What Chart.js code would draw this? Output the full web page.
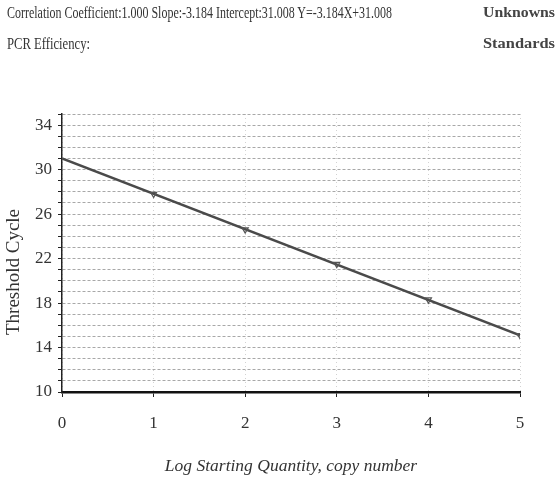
<!DOCTYPE html>
<html>
<head>
<meta charset="utf-8">
<script src="https://cdn.jsdelivr.net/npm/chart.js@4/dist/chart.umd.min.js"></script>
<style>
  html, body { margin: 0; padding: 0; background: #fff; }
  #wrap { position: relative; width: 558px; height: 484px; overflow: hidden; }
  #c { position: absolute; left: 0; top: 0; }
  .hdr { position: absolute; font-family: "Liberation Serif", "DejaVu Serif", serif; color: #333; white-space: nowrap; transform-origin: 0 0; }
  #eq { left: 7px; top: 4px; font-size: 16px; }
  #eff { left: 7px; top: 35px; font-size: 16px; }
  #unk { left: 483px; top: 4px; font-size: 15px; font-weight: bold; color: #444; }
  #std { left: 483px; top: 35px; font-size: 15px; font-weight: bold; color: #444; }
</style>
</head>
<body>
<div id="wrap">
  <canvas id="c" width="558" height="484"></canvas>
  <div class="hdr" id="eq">Correlation Coefficient:1.000 Slope:-3.184 Intercept:31.008 Y=-3.184X+31.008</div>
  <div class="hdr" id="eff">PCR Efficiency:</div>
  <div class="hdr" id="unk">Unknowns</div>
  <div class="hdr" id="std">Standards</div>
</div>
<script>
// Data
const standardsLogQuantity = [1, 2, 3, 4, 5];
const standardsThresholdCycle = [27.8, 24.6, 21.5, 18.3, 15.1];
const fitLineX = [0, 5];
const fitLineY = [31.008, 15.088];
const xTickLabels = ['0', '1', '2', '3', '4', '5'];
const yTickLabels = ['10', '14', '18', '22', '26', '30', '34'];

// condense header text to match the reference widths
function fitWidth(id, target) {
  const el = document.getElementById(id);
  const w = el.getBoundingClientRect().width;
  el.style.transform = 'scaleX(' + (target / w) + ')';
}
fitWidth('eq', 385);
fitWidth('eff', 83);
fitWidth('unk', 72);
fitWidth('std', 72);

const serif = '"Liberation Serif", "DejaVu Serif", serif';

new Chart(document.getElementById('c'), {
  type: 'scatter',
  data: {
    datasets: [
      {
        label: 'Fit',
        data: fitLineX.map((x, i) => ({ x: x, y: fitLineY[i] })),
        showLine: true,
        borderColor: '#4a4a4a',
        borderWidth: 2.5,
        pointRadius: 0,
        order: 2
      },
      {
        label: 'Standards',
        data: standardsLogQuantity.map((x, i) => ({ x: x, y: standardsThresholdCycle[i] })),
        showLine: false,
        pointStyle: 'triangle',
        rotation: 180,
        pointRadius: 3.5,
        backgroundColor: 'rgba(0,0,0,0)',
        borderColor: '#555',
        borderWidth: 1.2,
        order: 1
      }
    ]
  },
  options: {
    responsive: false,
    animation: false,
    events: [],
    layout: { padding: { left: 0, right: 38, top: 114, bottom: 0 } },
    plugins: { legend: { display: false }, tooltip: { enabled: false } },
    scales: {
      x: {
        type: 'linear',
        min: 0, max: 5,
        afterFit: s => { s.height = 92; },
        ticks: {
          stepSize: 1,
          padding: 16,
          color: '#333',
          font: { family: serif, size: 17 },
          callback: (v) => xTickLabels[v] !== undefined && Number.isInteger(v) ? xTickLabels[v] : ''
        },
        grid: {
          color: '#d2d2d2',
          lineWidth: 1,
          tickLength: 5,
          tickColor: '#222',
          tickBorderDash: [],
          drawTicks: true
        },
        border: { display: true, color: '#111', width: 2.5, dash: [1, 3] },
        title: {
          display: true,
          text: 'Log Starting Quantity, copy number',
          color: '#333',
          font: { family: serif, size: 17.5, style: 'italic' },
          padding: { top: 0, bottom: 7 }
        }
      },
      y: {
        type: 'linear',
        min: 10, max: 35,
        afterFit: s => { s.width = 62; },
        ticks: {
          stepSize: 1,
          autoSkip: false,
          padding: 6,
          color: '#333',
          font: { family: serif, size: 17 },
          callback: (v) => yTickLabels.includes(String(v)) ? String(v) : ''
        },
        grid: {
          color: '#a8a8a8',
          lineWidth: 1,
          tickLength: 4,
          tickColor: '#222',
          tickBorderDash: [],
          drawTicks: true
        },
        border: { display: true, color: '#222', width: 1.5, dash: [3, 2] },
        title: {
          display: true,
          text: 'Threshold Cycle\u00a0\u00a0\u00a0\u00a0\u00a0\u00a0\u00a0\u00a0',
          color: '#333',
          font: { family: serif, size: 19 },
          padding: { top: 3, bottom: 0 }
        }
      }
    }
  }
});
</script>
</body>
</html>
